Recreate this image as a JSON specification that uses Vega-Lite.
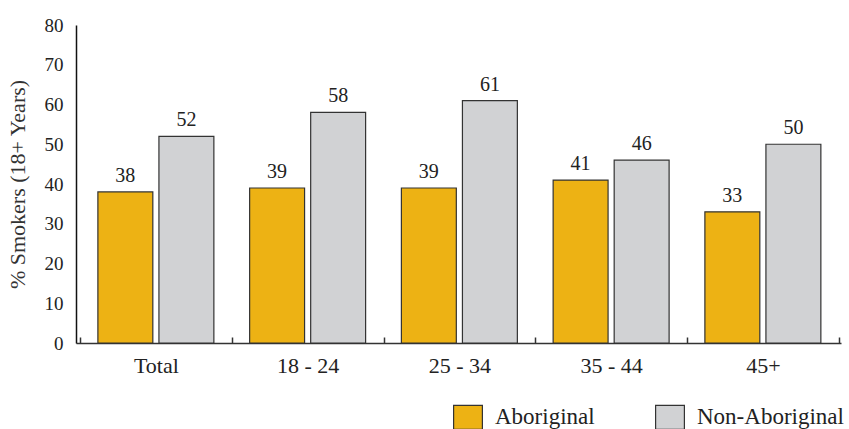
{
  "$schema": "https://vega.github.io/schema/vega-lite/v6.json",
  "width": 765,
  "height": 318,
  "autosize": {"type": "none"},
  "padding": {"left": 76, "top": 25, "right": 8, "bottom": 86},
  "background": "white",
  "config": {"view": {"stroke": null}, "font": "Liberation Serif"},
  "data": {
    "values": [
      {"group": "Total", "series": "Aboriginal", "value": 38},
      {"group": "Total", "series": "Non-Aboriginal", "value": 52},
      {"group": "18 - 24", "series": "Aboriginal", "value": 39},
      {"group": "18 - 24", "series": "Non-Aboriginal", "value": 58},
      {"group": "25 - 34", "series": "Aboriginal", "value": 39},
      {"group": "25 - 34", "series": "Non-Aboriginal", "value": 61},
      {"group": "35 - 44", "series": "Aboriginal", "value": 41},
      {"group": "35 - 44", "series": "Non-Aboriginal", "value": 46},
      {"group": "45+", "series": "Aboriginal", "value": 33},
      {"group": "45+", "series": "Non-Aboriginal", "value": 50}
    ]
  },
  "encoding": {
    "x": {
      "field": "group",
      "type": "nominal",
      "sort": ["Total", "18 - 24", "25 - 34", "35 - 44", "45+"],
      "scale": {"paddingInner": 0, "paddingOuter": 0.0206, "align": 0.64},
      "axis": {
        "title": null,
        "labelAngle": 0,
        "tickBand": "extent",
        "ticks": true,
        "tickSize": -6,
        "tickColor": "#333",
        "tickWidth": 1.5,
        "domainColor": "#333",
        "domainWidth": 1.5,
        "labelFontSize": 22,
        "labelPadding": 18,
        "labelColor": "#222"
      }
    },
    "xOffset": {
      "field": "series",
      "type": "nominal",
      "sort": ["Aboriginal", "Non-Aboriginal"],
      "scale": {"paddingInner": 0.1, "paddingOuter": 0.293}
    },
    "y": {
      "field": "value",
      "type": "quantitative",
      "scale": {"domain": [0, 80]},
      "axis": {
        "values": [0, 10, 20, 30, 40, 50, 60, 70, 80],
        "ticks": false,
        "grid": false,
        "domainColor": "#111",
        "domainWidth": 1.5,
        "labelFontSize": 19,
        "labelPadding": 13,
        "labelColor": "#222",
        "title": "% Smokers (18+ Years)",
        "titleFontSize": 22,
        "titleFontWeight": "normal",
        "titleColor": "#333",
        "titlePadding": 15
      }
    }
  },
  "layer": [
    {
      "mark": {"type": "bar", "stroke": "#333", "strokeWidth": 1.2},
      "encoding": {
        "color": {
          "field": "series",
          "type": "nominal",
          "scale": {"domain": ["Aboriginal", "Non-Aboriginal"], "range": ["#EDB214", "#D1D2D4"]},
          "legend": {
            "orient": "none",
            "legendX": 379,
            "legendY": 379,
            "direction": "horizontal",
            "title": null,
            "symbolType": "M-1.2,-1H1.2V1H-1.2Z",
            "symbolSize": 576,
            "symbolStrokeColor": "#333",
            "symbolStrokeWidth": 1.2,
            "labelFontSize": 23,
            "labelOffset": 14,
            "columnPadding": 58,
            "labelColor": "#222",
            "labelFont": "Liberation Serif"
          }
        }
      }
    },
    {
      "mark": {"type": "text", "baseline": "bottom", "dy": -6, "fontSize": 20, "color": "#222"},
      "encoding": {"text": {"field": "value", "type": "quantitative"}}
    }
  ]
}
